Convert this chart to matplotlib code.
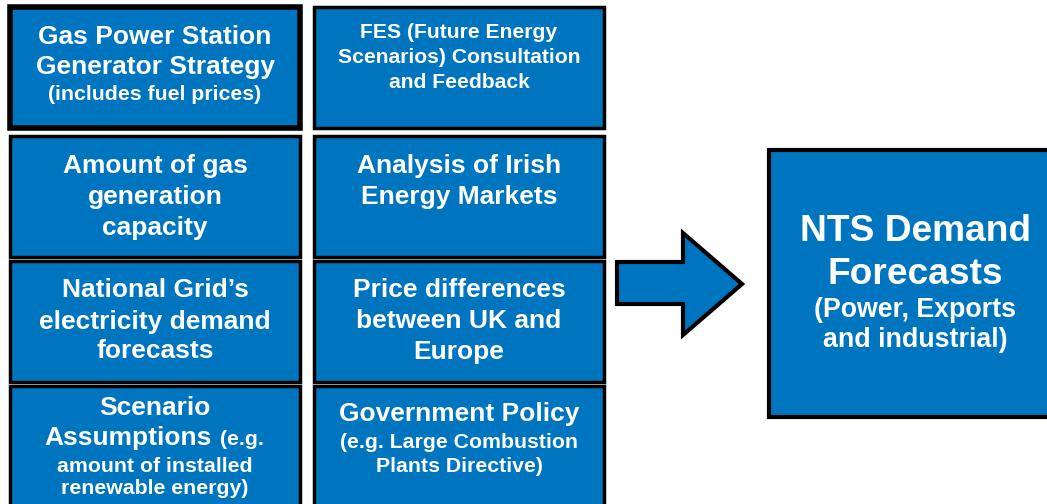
import matplotlib
matplotlib.use('Agg')
import matplotlib.pyplot as plt
from matplotlib.patches import Rectangle, Polygon

plt.rcParams['font.family'] = ['Liberation Sans', 'DejaVu Sans']

BLUE = '#0075BF'
BIG = 19
SMALL = 15.3

# input boxes: (left, top, right, bottom) in pixels, text lines (text, size, baseline y)
boxes = [
    ((10, 7, 300, 128), 4.0, [("Gas Power Station", BIG, 44), ("Generator Strategy", BIG, 74),
                              ("(includes fuel prices)", SMALL, 100)]),
    ((314, 7, 604, 128), 2.5, [("FES (Future Energy", 15.2, 37.5), ("Scenarios) Consultation", 15.2, 63),
                               ("and Feedback", 15.2, 87.5)]),
    ((10, 136, 300, 257), 2.5, [("Amount of gas", BIG, 172.5), ("generation", BIG, 204),
                                ("capacity", BIG, 235)]),
    ((314, 136, 604, 257), 2.5, [("Analysis of Irish", BIG, 172.5), ("Energy Markets", BIG, 204)]),
    ((10, 261, 300, 382), 2.5, [("National Grid\u2019s", BIG, 297), ("electricity demand", BIG, 328.5),
                                ("forecasts", BIG, 358.5)]),
    ((314, 261, 604, 382), 2.5, [("Price differences", BIG, 297), ("between UK and", BIG, 328.5),
                                 ("Europe", BIG, 358.5)]),
    ((10, 386, 300, 510), 2.5, [("Scenario", BIG, 415), ("amount of installed", SMALL, 471.5),
                                ("renewable energy)", SMALL, 494.5)]),
    ((314, 386, 604, 510), 2.5, [("Government Policy", BIG, 421.5), ("(e.g. Large Combustion", SMALL, 448),
                                 ("Plants Directive)", SMALL, 472)]),
]

# output box
out_box = (769, 150, 1060, 417)
out_lines = [("NTS Demand", 26.7, 241), ("Forecasts", 26.7, 283.5),
             ("(Power, Exports", 19.3, 317), ("and industrial)", 19.3, 347)]

# arrow outline
arrow_pts = [(617, 262), (683, 262), (683, 233), (742, 284),
             (683, 335), (683, 304), (617, 304)]

fig = plt.figure(figsize=(10.47, 5.04), dpi=100)
ax = fig.add_axes([0, 0, 1, 1])
ax.set_xlim(0, 1047)
ax.set_ylim(504, 0)
ax.axis('off')


def draw_box(rect, lw, lines):
    l, t, r, b = rect
    ax.add_patch(Rectangle((l, t), r - l, b - t, facecolor=BLUE, edgecolor='black',
                           linewidth=lw, zorder=2))
    cx = (l + r) / 2
    for txt, size, y in lines:
        ax.text(cx, y, txt, color='white', fontsize=size, fontweight='bold',
                ha='center', va='baseline', zorder=3)


for rect, lw, lines in boxes:
    draw_box(rect, lw, lines)

# mixed size line in the scenario box
ax.text(212, 445, "Assumptions", color='white', fontsize=BIG, fontweight='bold',
        ha='right', va='baseline', zorder=3)
ax.text(220, 445, "(e.g.", color='white', fontsize=SMALL, fontweight='bold',
        ha='left', va='baseline', zorder=3)

draw_box(out_box, 3.0, [])
for txt, size, y in out_lines:
    ax.text(915, y, txt, color='white', fontsize=size, fontweight='bold',
            ha='center', va='baseline', zorder=3)

ax.add_patch(Polygon(arrow_pts, closed=True, facecolor=BLUE, edgecolor='black',
                     linewidth=3, joinstyle='miter', zorder=2))

plt.savefig('out.png', dpi=100)
plt.close()
